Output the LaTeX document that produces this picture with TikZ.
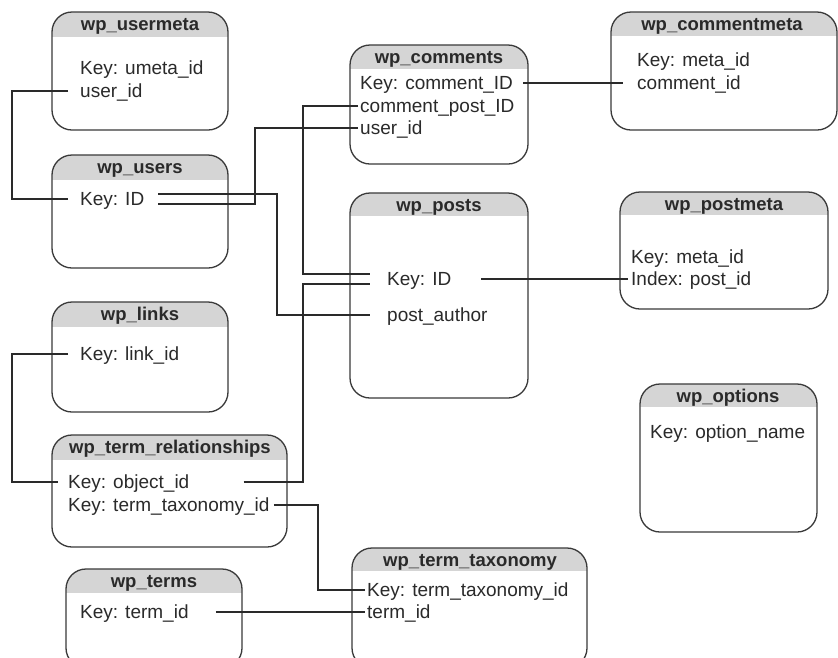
\documentclass[tikz,border=0pt]{standalone}
\usepackage{fontspec}
\setmainfont{Liberation Sans}
\usetikzlibrary{calc}

\definecolor{hdr}{HTML}{D5D5D5}
\definecolor{ink}{HTML}{2A2A2A}
\definecolor{edge}{HTML}{3A3A3A}

\tikzset{
  tbltitle/.style={font=\fontsize{18.5}{20}\selectfont\bfseries, text=ink,
    inner sep=0pt, text height=13.4pt, text depth=0pt, anchor=center},
  field/.style={font=\fontsize{19}{22}\selectfont, text=ink,
    inner sep=0pt, text height=13.6pt, text depth=0pt, anchor=west},
  link/.style={draw=ink, line width=1.6pt},
}

% rounded table frame with a grey title band
% #1 left, #2 top, #3 right, #4 bottom, #5 bottom of title band
\newcommand\dbtable[5]{%
  \fill[white, rounded corners=20pt] (#1,#2) rectangle (#3,#4);
  \begin{scope}
    \clip[rounded corners=20pt] (#1,#2) rectangle (#3,#4);
    \fill[hdr] (#1,#2) rectangle (#3,#5);
  \end{scope}
  \draw[draw=edge, line width=1.3pt, rounded corners=20pt] (#1,#2) rectangle (#3,#4);
}

\begin{document}
\begin{tikzpicture}[x=1pt, y=-1pt]
\useasboundingbox[fill=white] (0,0) rectangle (838,657);

% ---- tables ----
\dbtable{52}{12}{228}{130}{37}
\node[tbltitle] (um) at (140,24) {wp\_usermeta};
\node[field] (um-key) at (80,68) {Key: umeta\_id};
\node[field] (um-uid) at (80,91) {user\_id};

\dbtable{52}{155}{228}{268}{180}
\node[tbltitle] (us) at (140,167) {wp\_users};
\node[field] (us-id) at (80,199) {Key: ID};

\dbtable{350}{45}{528}{164}{69}
\node[tbltitle] (cm) at (439,57) {wp\_comments};
\node[field] (cm-id) at (360,83) {Key: comment\_ID};
\node[field] (cm-pid) at (360,106) {comment\_post\_ID};
\node[field] (cm-uid) at (360,128) {user\_id};

\dbtable{611}{12}{837}{130}{36}
\node[tbltitle] (cmm) at (722,24) {wp\_commentmeta};
\node[field] (cmm-key) at (637,60) {Key: meta\_id};
\node[field] (cmm-cid) at (637,83) {comment\_id};

\dbtable{350}{193}{528}{398}{216}
\node[tbltitle] (po) at (439,205) {wp\_posts};
\node[field] (po-id) at (387,279) {Key: ID};
\node[field] (po-auth) at (387,315) {post\_author};

\dbtable{620}{192}{828}{309}{215}
\node[tbltitle] (pm) at (724,204) {wp\_postmeta};
\node[field] (pm-key) at (631,257) {Key: meta\_id};
\node[field] (pm-pid) at (631,279) {Index: post\_id};

\dbtable{52}{302}{228}{412}{327}
\node[tbltitle] (li) at (140,314) {wp\_links};
\node[field] (li-id) at (80,354) {Key: link\_id};

\dbtable{52}{435}{287}{547}{460}
\node[tbltitle] (tr) at (170,447) {wp\_term\_relationships};
\node[field] (tr-oid) at (68,482) {Key: object\_id};
\node[field] (tr-ttid) at (68,505) {Key: term\_taxonomy\_id};

\dbtable{66}{569}{242}{668}{593}
\node[tbltitle] (te) at (154,581) {wp\_terms};
\node[field] (te-id) at (80,612) {Key: term\_id};

\dbtable{352}{548}{587}{668}{571}
\node[tbltitle] (tt) at (470,560) {wp\_term\_taxonomy};
\node[field] (tt-id) at (367,590) {Key: term\_taxonomy\_id};
\node[field] (tt-tid) at (367,612) {term\_id};

\dbtable{640}{384}{817}{532}{407}
\node[tbltitle] (op) at (728,396) {wp\_options};
\node[field] (op-key) at (650,432) {Key: option\_name};

% ---- turning columns of the connectors ----
\coordinate (colA) at (12,0);
\coordinate (colB) at (255,0);
\coordinate (colC) at (277,0);
\coordinate (colD) at (303,0);
\coordinate (colE) at (318,0);

% ---- connector ends, set a little off the field texts ----
\coordinate (umU)  at ([xshift=-12pt]um-uid.west);
\coordinate (usL)  at ([xshift=-12pt]us-id.west);
\coordinate (usRa) at ([xshift=14pt,yshift=5pt]us-id.east);
\coordinate (usRb) at ([xshift=14pt,yshift=-5pt]us-id.east);
\coordinate (cmU)  at ([xshift=-2pt]cm-uid.west);
\coordinate (cmP)  at ([xshift=-2pt]cm-pid.west);
\coordinate (cmI)  at ([xshift=10pt]cm-id.east);
\coordinate (cmmC) at ([xshift=-14pt]cmm-cid.west);
\coordinate (poA)  at ([xshift=-17pt]po-auth.west);
\coordinate (poLa) at ([xshift=-17pt,yshift=5pt]po-id.west);
\coordinate (poLb) at ([xshift=-17pt,yshift=-5pt]po-id.west);
\coordinate (poR)  at ([xshift=30pt]po-id.east);
\coordinate (pmP)  at ([xshift=-3pt]pm-pid.west);
\coordinate (liL)  at ([xshift=-12pt]li-id.west);
\coordinate (trL)  at ([xshift=-10pt]tr-oid.west);
\coordinate (trO)  at ([xshift=54pt]tr-oid.east);
\coordinate (trT)  at ([xshift=4pt]tr-ttid.east);
\coordinate (ttK)  at ([xshift=-2pt]tt-id.west);
\coordinate (ttT)  at ([xshift=-2pt]tt-tid.west);
\coordinate (teR)  at ([xshift=27pt]te-id.east);

% ---- relations ----
% usermeta.user_id -> users.ID
\draw[link] (umU) -- (umU -| colA) -- (usL -| colA) -- (usL);
% users.ID -> comments.user_id
\draw[link] (usRb) -- (usRb -| colB) -- (cmU -| colB) -- (cmU);
% users.ID -> posts.post_author
\draw[link] (usRa) -- (usRa -| colC) -- (poA -| colC) -- (poA);
% comments.comment_post_ID -> posts.ID
\draw[link] (cmP) -- (cmP -| colD) -- (poLa -| colD) -- (poLa);
% term_relationships.object_id -> posts.ID
\draw[link] (trO) -- (trO -| colD) -- (poLb -| colD) -- (poLb);
% comments.comment_ID -> commentmeta.comment_id
\draw[link] (cmI) -- (cmmC);
% posts.ID -> postmeta.post_id
\draw[link] (poR) -- (pmP);
% links.link_id -> term_relationships.object_id
\draw[link] (liL) -- (liL -| colA) -- (trL -| colA) -- (trL);
% term_relationships.term_taxonomy_id -> term_taxonomy.term_taxonomy_id
\draw[link] (trT) -- (trT -| colE) -- (ttK -| colE) -- (ttK);
% terms.term_id -> term_taxonomy.term_id
\draw[link] (teR) -- (ttT);
\end{tikzpicture}
\end{document}
